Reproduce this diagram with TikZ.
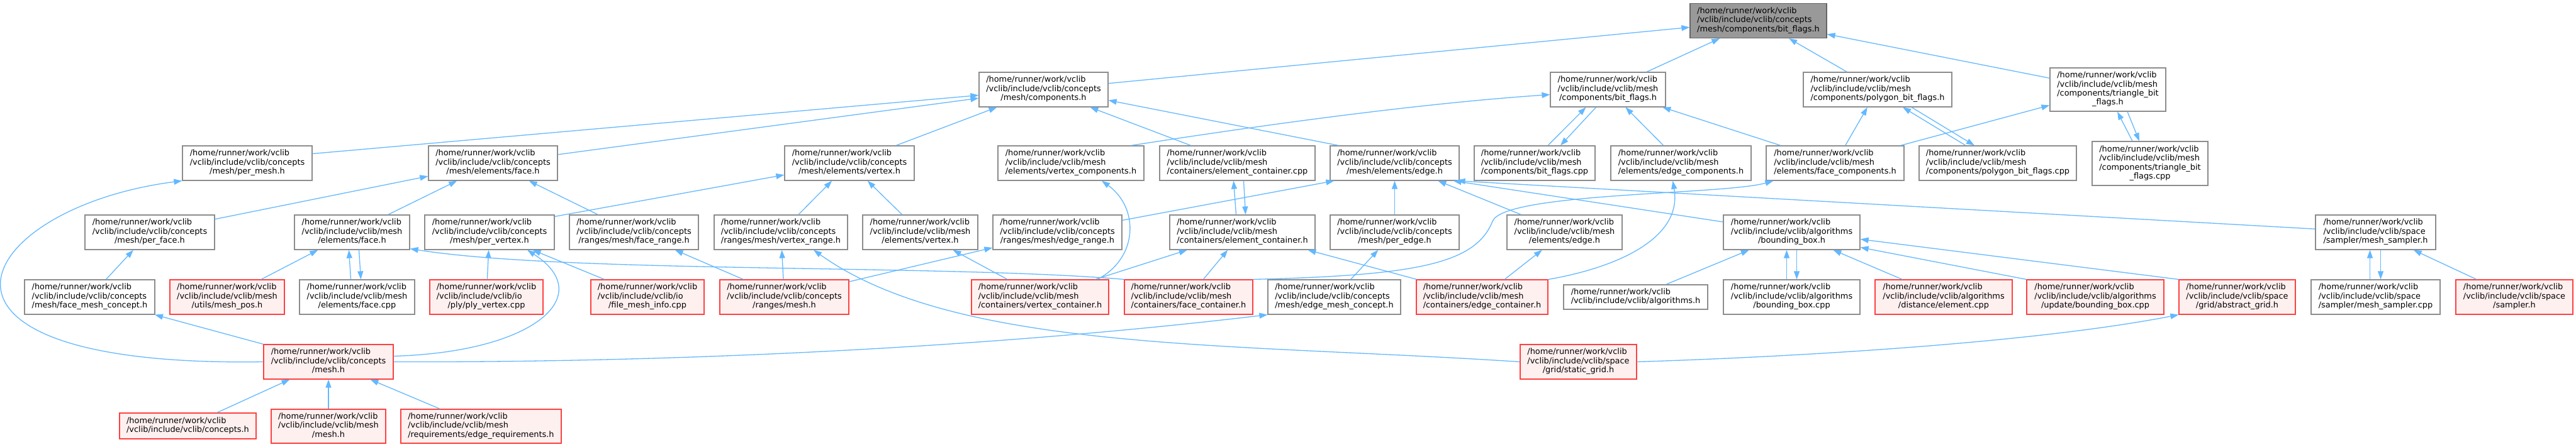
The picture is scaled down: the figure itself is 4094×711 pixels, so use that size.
\documentclass[tikz,border=0pt]{standalone}
\usepackage{fontspec}
\setmainfont{DejaVu Sans}
\usepackage{tikz}
\usetikzlibrary{arrows.meta}
\definecolor{edgeblue}{HTML}{63B8FF}
\definecolor{boxgrey}{HTML}{8C8C8C}
\definecolor{curfill}{HTML}{999999}
\definecolor{curline}{HTML}{666666}
\definecolor{hotfill}{HTML}{FFF0F0}
\definecolor{hotline}{HTML}{FF4040}
\newcommand{\incpath}[2]{\begin{tabular}{@{}l@{}}/home/runner/work/vclib\\/vclib/include/vclib/#1\\\multicolumn{1}{@{}c@{}}{#2}\end{tabular}}

\begin{document}
\begin{tikzpicture}[x=1pt, y=1pt, font=\fontsize{12.9}{14.4}\selectfont,
  file/.style={draw=boxgrey, fill=white, line width=1.2pt, inner sep=0pt, minimum height=55pt},
  hot/.style={file, draw=hotline, fill=hotfill},
  cur/.style={file, draw=curline, fill=curfill},
  inc/.style={-{Triangle[length=13pt, width=9pt]}, edgeblue, line width=1.3pt}]
  \useasboundingbox (0,0) rectangle (4094,-711);

  \node[cur, minimum width=217pt] (bitflags) at (2794.5,-33) {\incpath{concepts}{/mesh/components/bit\_flags.h}};

  \node[file, minimum width=205pt] (ccomp) at (1658.5,-142.5) {\incpath{concepts}{/mesh/components.h}};
  \node[file, minimum width=183pt] (mbitflags) at (2555.5,-142.5) {\incpath{mesh}{/components/bit\_flags.h}};
  \node[file, minimum width=236pt] (polybf) at (2984,-142.5) {\incpath{mesh}{/components/polygon\_bit\_flags.h}};
  \node[file, minimum width=184pt, minimum height=69pt] (tribf) at (3350,-142.5)
    {\begin{tabular}{@{}l@{}}/home/runner/work/vclib\\/vclib/include/vclib/mesh\\/components/triangle\_bit\\\multicolumn{1}{@{}c@{}}{\_flags.h}\end{tabular}};

  \node[file, minimum width=206pt] (permesh) at (393,-259.5) {\incpath{concepts}{/mesh/per\_mesh.h}};
  \node[file, minimum width=205pt] (cface) at (783.5,-259.5) {\incpath{concepts}{/mesh/elements/face.h}};
  \node[file, minimum width=206pt] (cvertex) at (1350,-259.5) {\incpath{concepts}{/mesh/elements/vertex.h}};
  \node[file, minimum width=232pt] (vcomp) at (1702,-259.5) {\incpath{mesh}{/elements/vertex\_components.h}};
  \node[file, minimum width=247pt] (eccpp) at (1966.5,-259.5) {\incpath{mesh}{/containers/element\_container.cpp}};
  \node[file, minimum width=205pt] (cedge) at (2216.5,-259.5) {\incpath{concepts}{/mesh/elements/edge.h}};
  \node[file, minimum width=192pt] (bfcpp) at (2439,-259.5) {\incpath{mesh}{/components/bit\_flags.cpp}};
  \node[file, minimum width=223pt] (ecomp) at (2671.5,-259.5) {\incpath{mesh}{/elements/edge\_components.h}};
  \node[file, minimum width=219pt] (fcomp) at (2916.5,-259.5) {\incpath{mesh}{/elements/face\_components.h}};
  \node[file, minimum width=250pt] (pbfcpp) at (3175,-259.5) {\incpath{mesh}{/components/polygon\_bit\_flags.cpp}};
  \node[file, minimum width=184pt, minimum height=70pt] (tbfcpp) at (3417,-260)
    {\begin{tabular}{@{}l@{}}/home/runner/work/vclib\\/vclib/include/vclib/mesh\\/components/triangle\_bit\\\multicolumn{1}{@{}c@{}}{\_flags.cpp}\end{tabular}};

  \node[file, minimum width=206pt] (perface) at (238,-369.5) {\incpath{concepts}{/mesh/per\_face.h}};
  \node[file, minimum width=183pt] (mface) at (559.5,-369.5) {\incpath{mesh}{/elements/face.h}};
  \node[file, minimum width=206pt] (pervertex) at (778,-369.5) {\incpath{concepts}{/mesh/per\_vertex.h}};
  \node[file, minimum width=205pt] (facerange) at (1007.5,-369.5) {\incpath{concepts}{/ranges/mesh/face\_range.h}};
  \node[file, minimum width=212pt] (vertexrange) at (1241,-369.5) {\incpath{concepts}{/ranges/mesh/vertex\_range.h}};
  \node[file, minimum width=183pt] (mvertex) at (1462.5,-369.5) {\incpath{mesh}{/elements/vertex.h}};
  \node[file, minimum width=205pt] (edgerange) at (1680.5,-369.5) {\incpath{concepts}{/ranges/mesh/edge\_range.h}};
  \node[file, minimum width=231pt] (ech) at (1974.5,-369.5) {\incpath{mesh}{/containers/element\_container.h}};
  \node[file, minimum width=205pt] (peredge) at (2216.5,-369.5) {\incpath{concepts}{/mesh/per\_edge.h}};
  \node[file, minimum width=183pt] (medge) at (2486.5,-369.5) {\incpath{mesh}{/elements/edge.h}};
  \node[file, minimum width=217pt] (bbox) at (2847.5,-369.5) {\incpath{algorithms}{/bounding\_box.h}};
  \node[file, minimum width=191pt] (msamplerh) at (3775.5,-369.5) {\incpath{space}{/sampler/mesh\_sampler.h}};

  \node[file, minimum width=207pt] (fmconcept) at (142.5,-472.5) {\incpath{concepts}{/mesh/face\_mesh\_concept.h}};
  \node[hot, minimum width=182pt] (meshpos) at (361,-472.5) {\incpath{mesh}{/utils/mesh\_pos.h}};
  \node[file, minimum width=183pt] (facecpp) at (567.5,-472.5) {\incpath{mesh}{/elements/face.cpp}};
  \node[hot, minimum width=180pt] (plyvertex) at (773,-472.5) {\incpath{io}{/ply/ply\_vertex.cpp}};
  \node[hot, minimum width=180pt] (fileinfo) at (1029,-472.5) {\incpath{io}{/file\_mesh\_info.cpp}};
  \node[hot, minimum width=205pt] (rangesmesh) at (1246.5,-472.5) {\incpath{concepts}{/ranges/mesh.h}};
  \node[hot, minimum width=218pt] (vcont) at (1653,-472.5) {\incpath{mesh}{/containers/vertex\_container.h}};
  \node[hot, minimum width=204pt] (fcont) at (1889,-472.5) {\incpath{mesh}{/containers/face\_container.h}};
  \node[file, minimum width=211pt] (emconcept) at (2120.5,-472.5) {\incpath{concepts}{/mesh/edge\_mesh\_concept.h}};
  \node[hot, minimum width=209pt] (econt) at (2355.5,-472.5) {\incpath{mesh}{/containers/edge\_container.h}};
  \node[file, minimum width=229pt, minimum height=39pt] (algos) at (2599.5,-472.5)
    {\begin{tabular}{@{}l@{}}/home/runner/work/vclib\\/vclib/include/vclib/algorithms.h\end{tabular}};
  \node[file, minimum width=217pt] (bboxcpp) at (2847.5,-472.5) {\incpath{algorithms}{/bounding\_box.cpp}};
  \node[hot, minimum width=218pt] (distel) at (3089,-472.5) {\incpath{algorithms}{/distance/element.cpp}};
  \node[hot, minimum width=218pt] (updbbox) at (3330,-472.5) {\incpath{algorithms}{/update/bounding\_box.cpp}};
  \node[hot, minimum width=185pt] (absgrid) at (3555.5,-472.5) {\incpath{space}{/grid/abstract\_grid.h}};
  \node[file, minimum width=205pt] (msamplercpp) at (3775.5,-472.5) {\incpath{space}{/sampler/mesh\_sampler.cpp}};
  \node[hot, minimum width=186pt] (sampler) at (3996,-472.5) {\incpath{space}{/sampler.h}};

  \node[hot, minimum width=206pt] (cmesh) at (522,-575.5) {\incpath{concepts}{/mesh.h}};
  \node[hot, minimum width=185pt] (staticgrid) at (2508.5,-575.5) {\incpath{space}{/grid/static\_grid.h}};

  \node[hot, minimum width=217pt, minimum height=41pt] (conceptsh) at (298.5,-677.5)
    {\begin{tabular}{@{}l@{}}/home/runner/work/vclib\\/vclib/include/vclib/concepts.h\end{tabular}};
  \node[hot, minimum width=182pt, minimum height=54pt] (meshmesh) at (522,-678) {\incpath{mesh}{/mesh.h}};
  \node[hot, minimum width=255pt, minimum height=54pt] (edgereq) at (764.5,-678) {\incpath{mesh}{/requirements/edge\_requirements.h}};

  \draw[inc] (ccomp) -- (bitflags);
  \draw[inc] (mbitflags) -- (bitflags);
  \draw[inc] (polybf) -- (bitflags);
  \draw[inc] (tribf) -- (bitflags);
  \draw[inc] ([yshift=15pt]permesh.east) -- ([yshift=-9pt]ccomp.west);
  \draw[inc] (cface) -- (ccomp);
  \draw[inc] (cvertex) -- (ccomp);
  \draw[inc] (eccpp) -- (ccomp);
  \draw[inc] ([xshift=14pt]cedge.north west) -- ([yshift=-17pt]ccomp.east);
  \draw[inc] ([xshift=-21pt]vcomp.north east) .. controls (2000,-200) and (2250,-165) .. ([yshift=-8pt]mbitflags.west);
  \draw[inc] ([xshift=21pt]bfcpp.north) -- ([xshift=-35pt]mbitflags.south);
  \draw[inc] ([xshift=-19pt]mbitflags.south) -- ([xshift=41pt]bfcpp.north);
  \draw[inc] (ecomp) -- (mbitflags);
  \draw[inc] (fcomp) -- (mbitflags);
  \draw[inc] (fcomp) -- (polybf);
  \draw[inc] (fcomp) -- (tribf);
  \draw[inc] ([xshift=-51pt]pbfcpp.north) -- ([xshift=40pt]polybf.south);
  \draw[inc] ([xshift=54pt]polybf.south) -- ([xshift=-37pt]pbfcpp.north);
  \draw[inc] ([xshift=-28pt]tbfcpp.north) -- ([xshift=15pt]tribf.south);
  \draw[inc] ([xshift=31pt]tribf.south) -- ([xshift=-17pt]tbfcpp.north);

  \draw[inc] (perface) -- (cface);
  \draw[inc] (mface) -- (cface);
  \draw[inc] (facerange) -- (cface);
  \draw[inc] ([yshift=-3pt]pervertex.north east) -- (cvertex);
  \draw[inc] (vertexrange) -- (cvertex);
  \draw[inc] (mvertex) -- (cvertex);
  \draw[inc] (edgerange) -- ([xshift=7pt]cedge.south west);
  \draw[inc] (peredge) -- (cedge);
  \draw[inc] (medge) -- (cedge);
  \draw[inc] (bbox) -- ([xshift=-10pt]cedge.south east);
  \draw[inc] (msamplerh) -- ([xshift=-4pt]cedge.south east);
  \draw[inc] ([xshift=91pt]vcont.north) .. controls (1810,-410) and (1810,-330) .. ([xshift=49pt]vcomp.south);
  \draw[inc] ([xshift=-10pt]ech.north) -- ([xshift=-6pt]eccpp.south);
  \draw[inc] ([xshift=10pt]eccpp.south) -- ([xshift=5pt]ech.north);
  \draw[inc] (econt.north east) .. controls (2557,-428) and (2675,-384) .. ([xshift=-13pt]ecomp.south);
  \draw[inc] (fcont.north east) .. controls (2250,-438) and (2345,-420) .. (2372,-352)
    .. controls (2390,-306) and (2740,-310) .. ([xshift=12pt]fcomp.south west);

  \draw[inc] (fmconcept) -- (perface);
  \draw[inc] (meshpos) -- (mface);
  \draw[inc] ([xshift=-10pt]facecpp.north) -- ([xshift=-5pt]mface.south);
  \draw[inc] ([xshift=11pt]mface.south) -- ([xshift=6pt]facecpp.north);
  \draw[inc] (fcont.north west) .. controls (1500,-420) and (900,-435) .. ([yshift=2pt]mface.south east);
  \draw[inc] (plyvertex) -- (pervertex);
  \draw[inc] (fileinfo) -- (pervertex);
  \draw[inc] ([yshift=9pt]cmesh.east) .. controls (850,-560) and (950,-470) .. ([xshift=60pt]pervertex.south);
  \draw[inc] (rangesmesh) -- (facerange);
  \draw[inc] (rangesmesh) -- (vertexrange);
  \draw[inc] (staticgrid.west) .. controls (1950,-545) and (1520,-560) .. ([xshift=52pt]vertexrange.south);
  \draw[inc] (rangesmesh) -- (edgerange);
  \draw[inc] (vcont) -- (mvertex);
  \draw[inc] (vcont) -- (ech);
  \draw[inc] (fcont) -- (ech);
  \draw[inc] (econt) -- (ech);
  \draw[inc] (emconcept) -- (peredge);
  \draw[inc] (econt) -- (medge);
  \draw[inc] (algos) -- (bbox);
  \draw[inc] ([xshift=-8pt]bboxcpp.north) -- ([xshift=-8pt]bbox.south);
  \draw[inc] ([xshift=8pt]bbox.south) -- ([xshift=8pt]bboxcpp.north);
  \draw[inc] (distel) -- (bbox);
  \draw[inc] (updbbox.north west) -- ([yshift=-24pt]bbox.east);
  \draw[inc] (absgrid.north west) -- ([yshift=-11pt]bbox.east);
  \draw[inc] ([xshift=-9pt]msamplercpp.north) -- ([xshift=-9pt]msamplerh.south);
  \draw[inc] ([xshift=8pt]msamplerh.south) -- ([xshift=8pt]msamplercpp.north);
  \draw[inc] (sampler) -- (msamplerh);

  \draw[inc] (cmesh) -- (fmconcept);
  \draw[inc] (cmesh.west) .. controls (-190,-585) and (-40,-330) .. (permesh.south west);
  \draw[inc] (cmesh.east) .. controls (1100,-577) and (1600,-550) .. (emconcept.south west);
  \draw[inc] (conceptsh) -- (cmesh);
  \draw[inc] (meshmesh) -- (cmesh);
  \draw[inc] (edgereq) -- (cmesh);
  \draw[inc] (staticgrid.east) .. controls (2900,-566) and (3250,-542) .. (absgrid.south west);
\end{tikzpicture}
\end{document}
